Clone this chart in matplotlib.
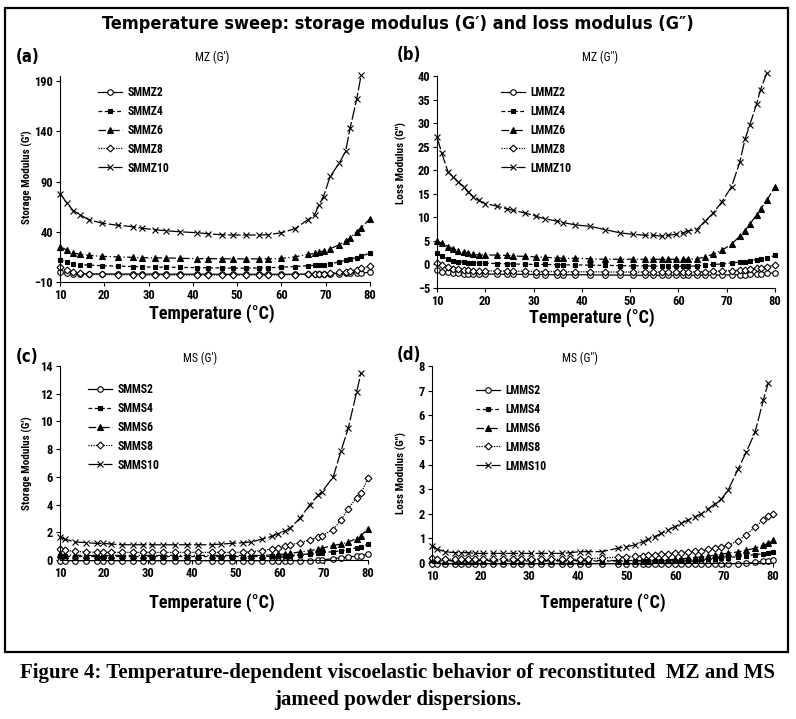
import matplotlib
matplotlib.use('Agg')
import matplotlib.pyplot as plt
from matplotlib import font_manager
from matplotlib.patches import Rectangle

# ---- data ----
temps_a = [10, 11.5, 13, 14.5, 16.5, 19.5, 23, 26.5, 28.5, 31.5, 34, 37, 41, 43.5, 46.5, 49,
           52, 55, 57, 60, 63, 66, 67.5, 68.5, 69.5, 71, 73, 74.5, 75.5, 77, 78, 80]
smmz2 = [-0.5, -1.5, -1.8, -2, -2, -2, -2, -2.1, -2.1, -2.1, -2.2, -2.2, -2.2, -2.2, -2.3, -2.3,
         -2.3, -2.3, -2.3, -2.3, -2.2, -2.1, -2, -2, -1.9, -1.8, -1.6, -1.3, -1.2, -1, -0.8, -0.5]
smmz4 = [12, 9.5, 8, 7.3, 6.8, 6.2, 5.8, 5.4, 5.1, 4.8, 4.8, 4.5, 4.3, 4.1, 4, 3.8,
         3.8, 4, 4.2, 4.7, 5.4, 6.2, 6.6, 6.8, 7.3, 8, 10, 11.5, 12.5, 14.3, 15.5, 19]
smmz6 = [25, 22, 19, 17.5, 16.5, 15.5, 15, 14.5, 14.2, 14, 14, 13.6, 13.2, 13.2, 13.2, 13,
         13, 13, 13, 13.5, 15, 17.5, 18.5, 19.5, 21, 23, 27, 31, 34, 40, 44, 53]
smmz8 = [5, 1.5, -0.5, -1.5, -2, -2.5, -2.8, -2.9, -3, -3, -3, -3, -3, -3, -3, -3,
         -3, -3, -3, -2.9, -2.7, -2.5, -2.3, -2, -1.8, -1.3, -0.5, 0.3, 1, 2.3, 3.5, 6]
smmz10 = [78, 69, 61, 57, 52, 48.5, 46.5, 45, 43.5, 42, 41, 40, 39, 38, 37, 36.8,
          36.8, 36.8, 37, 39, 43, 52, 57, 67, 75, 95, 108, 120, 143, 172, 196]

temps_b = [10, 11, 12.3, 13.4, 14.4, 15.5, 16.5, 17.5, 18.6, 20, 22.4, 24.4, 25.8, 28.3, 30.6,
           32.3, 34.8, 36.1, 38.6, 41.6, 44.8, 47.9, 50.6, 53, 54.8, 56.5, 57.9, 59.6, 61, 62,
           63.8, 65.5, 67.2, 69, 71, 72.7, 73.8, 74.8, 76.2, 77, 78.3, 80]
lmmz2 = [-1.2, -1.5, -1.7, -1.8, -1.9, -1.95, -2, -2, -2, -2.05, -2.05, -2.1, -2.1, -2.1, -2.15,
         -2.15, -2.2, -2.2, -2.2, -2.2, -2.25, -2.25, -2.3, -2.3, -2.3, -2.3, -2.3, -2.3, -2.3, -2.3,
         -2.3, -2.3, -2.3, -2.25, -2.2, -2.2, -2.15, -2.1, -2.05, -2, -1.9, -1.8]
lmmz4 = [2.4, 1.7, 1.1, 0.8, 0.6, 0.5, 0.4, 0.35, 0.3, 0.25, 0.2, 0.15, 0.1, 0.05, 0,
         0, -0.05, -0.1, -0.1, -0.15, -0.2, -0.25, -0.3, -0.3, -0.35, -0.35, -0.4, -0.4, -0.4, -0.4,
         -0.3, -0.2, 0, 0.1, 0.3, 0.5, 0.6, 0.8, 1, 1.1, 1.4, 1.9]
lmmz6 = [5, 4.5, 3.8, 3.3, 2.9, 2.6, 2.4, 2.2, 2, 2, 2, 1.9, 1.8, 1.7, 1.6,
         1.5, 1.4, 1.3, 1.3, 1.2, 1.1, 1.1, 1.1, 1.1, 1.1, 1.1, 1.1, 1.1, 1.1, 1.1,
         1.2, 1.6, 2.2, 3, 4.3, 6, 7.2, 8.6, 10.5, 11.8, 13.6, 16.5]
lmmz8 = [0.4, -0.2, -0.6, -0.9, -1, -1.1, -1.2, -1.3, -1.3, -1.35, -1.4, -1.4, -1.45, -1.45, -1.5,
         -1.5, -1.5, -1.55, -1.55, -1.55, -1.6, -1.6, -1.6, -1.6, -1.6, -1.6, -1.6, -1.6, -1.6, -1.6,
         -1.55, -1.5, -1.45, -1.4, -1.3, -1.2, -1.1, -1, -0.8, -0.7, -0.5, -0.1]
lmmz10 = [27, 23.6, 19.6, 18.6, 17.5, 16.5, 15.4, 14.4, 13.6, 12.9, 12.4, 11.8, 11.5, 10.9, 10.2,
          9.7, 9.2, 8.9, 8.4, 8.1, 7.4, 6.7, 6.4, 6.2, 6.2, 6, 6.2, 6.4, 6.7, 7.1,
          7.4, 9.2, 10.9, 13.3, 16.5, 21.7, 26.6, 29.7, 34.1, 37.1, 40.6]

temps_c = [10, 11.1, 13.4, 16, 18.3, 19.8, 21.7, 24, 26.6, 28.9, 30.8, 33.5, 36.1, 38.8, 41.4,
           44.5, 46.7, 49, 51.6, 53.5, 55.8, 58.1, 59.6, 61.1, 62.3, 64.5, 66.8, 68.7, 69.5, 72.1,
           73.9, 75.5, 77.4, 78.4, 80]
smms2 = [-0.05, -0.05, -0.05, -0.05, -0.05, -0.05, -0.05, -0.05, -0.05, -0.05, -0.05, -0.05, -0.05, -0.05, -0.05,
         -0.05, -0.05, -0.05, -0.05, -0.05, -0.05, -0.05, -0.05, -0.05, -0.05, -0.05, -0.04, -0.02, 0, 0.1,
         0.16, 0.22, 0.28, 0.32, 0.42]
smms4 = [0.3, 0.27, 0.25, 0.25, 0.25, 0.25, 0.25, 0.25, 0.25, 0.25, 0.25, 0.25, 0.25, 0.25, 0.25,
         0.25, 0.25, 0.25, 0.25, 0.25, 0.25, 0.26, 0.27, 0.3, 0.32, 0.38, 0.45, 0.5, 0.53, 0.6,
         0.66, 0.75, 0.88, 0.96, 1.15]
smms6 = [0.4, 0.36, 0.33, 0.33, 0.33, 0.33, 0.33, 0.33, 0.33, 0.33, 0.33, 0.33, 0.33, 0.33, 0.33,
         0.33, 0.33, 0.33, 0.33, 0.33, 0.33, 0.36, 0.4, 0.43, 0.48, 0.58, 0.68, 0.78, 0.85, 1.05,
         1.15, 1.3, 1.55, 1.75, 2.25]
smms8 = [0.77, 0.7, 0.62, 0.58, 0.56, 0.55, 0.55, 0.55, 0.55, 0.55, 0.55, 0.55, 0.55, 0.55, 0.55,
         0.55, 0.55, 0.55, 0.56, 0.6, 0.68, 0.8, 0.88, 1, 1.1, 1.25, 1.45, 1.65, 1.75, 2.2,
         2.9, 3.7, 4.5, 4.8, 5.9]
smms10 = [1.68, 1.5, 1.3, 1.25, 1.2, 1.2, 1.15, 1.1, 1.1, 1.1, 1.1, 1.1, 1.1, 1.1, 1.1,
          1.1, 1.15, 1.2, 1.25, 1.3, 1.5, 1.7, 1.9, 2.1, 2.3, 3, 4, 4.7, 4.9, 6,
          7.9, 9.5, 12.1, 13.5]

temps_d = [10, 11, 12.6, 14.7, 16, 17.4, 18.8, 20.5, 22.5, 24.6, 26.6, 28.3, 30.4, 32.4, 34.5,
           36.6, 38.3, 40.3, 42, 44.8, 48.2, 49.9, 51.6, 53.3, 54.4, 55.7, 57.1, 58.5, 59.8, 61.2,
           62.6, 64, 65.3, 66.7, 68.1, 69.4, 70.8, 72.8, 74.5, 76.3, 78, 79, 80]
lmms2 = [-0.03, -0.03, -0.03, -0.03, -0.03, -0.03, -0.03, -0.03, -0.03, -0.03, -0.03, -0.03, -0.03, -0.03, -0.03,
         -0.03, -0.03, -0.03, -0.03, -0.03, -0.03, -0.03, -0.03, -0.03, -0.03, -0.03, -0.03, -0.03, -0.03, -0.03,
         -0.03, -0.03, -0.03, -0.03, -0.03, -0.03, -0.03, -0.03, -0.02, 0.03, 0.07, 0.09, 0.11]
lmms4 = [0.12, 0.09, 0.08, 0.08, 0.08, 0.08, 0.08, 0.08, 0.08, 0.08, 0.08, 0.08, 0.08, 0.08, 0.08,
         0.08, 0.08, 0.08, 0.08, 0.08, 0.08, 0.08, 0.08, 0.08, 0.08, 0.08, 0.09, 0.09, 0.1, 0.11,
         0.12, 0.14, 0.15, 0.17, 0.18, 0.2, 0.22, 0.26, 0.3, 0.34, 0.38, 0.4, 0.45]
lmms6 = [0.15, 0.12, 0.1, 0.1, 0.1, 0.1, 0.1, 0.1, 0.1, 0.1, 0.1, 0.1, 0.1, 0.1, 0.1,
         0.1, 0.1, 0.1, 0.1, 0.1, 0.1, 0.1, 0.1, 0.1, 0.1, 0.11, 0.12, 0.13, 0.15, 0.17,
         0.2, 0.22, 0.25, 0.28, 0.32, 0.36, 0.4, 0.45, 0.52, 0.6, 0.72, 0.8, 0.92]
lmms8 = [0.2, 0.18, 0.16, 0.15, 0.15, 0.15, 0.15, 0.15, 0.15, 0.15, 0.15, 0.15, 0.15, 0.15, 0.15,
         0.15, 0.15, 0.15, 0.17, 0.2, 0.24, 0.26, 0.28, 0.3, 0.32, 0.34, 0.36, 0.38, 0.4, 0.42,
         0.45, 0.48, 0.5, 0.55, 0.6, 0.66, 0.72, 0.9, 1.15, 1.45, 1.75, 1.9, 2]
lmms10 = [0.69, 0.57, 0.46, 0.42, 0.42, 0.42, 0.39, 0.39, 0.39, 0.39, 0.39, 0.39, 0.39, 0.39, 0.39,
          0.39, 0.42, 0.46, 0.46, 0.46, 0.6, 0.66, 0.73, 0.87, 0.96, 1.07, 1.2, 1.34, 1.47, 1.61,
          1.75, 1.88, 2, 2.2, 2.4, 2.6, 2.96, 3.8, 4.5, 5.3, 6.6, 7.3]

# ---- fonts ----
avail = {f.name for f in font_manager.fontManager.ttflist}
narrow = next((n for n in ['Liberation Sans Narrow', 'DejaVu Sans Condensed', 'Roboto Condensed']
               if n in avail), 'DejaVu Sans')
plt.rcParams['font.family'] = [narrow, 'DejaVu Sans']
plt.rcParams['font.stretch'] = 'condensed'
plt.rcParams['font.weight'] = 'bold'

styles = [
    dict(ls='-', marker='o', mfc='white', ms=4),
    dict(ls=(0, (3, 2)), marker='s', mfc='black', ms=3.5),
    dict(ls=(0, (6, 2, 1, 2)), marker='^', mfc='black', ms=4),
    dict(ls=(0, (1, 1)), marker='D', mfc='white', ms=3.5),
    dict(ls=(0, (10, 2)), marker='x', mfc='black', ms=5),
]

W, H = 796, 719
fig = plt.figure(figsize=(W / 100, H / 100), dpi=100)


def px_axes(x0, y0, x1, y1):
    return fig.add_axes([x0 / W, 1 - y1 / H, (x1 - x0) / W, (y1 - y0) / H])


def panel(box, temps, series, names, ylim, yticks, ylabel, sub, letter, sub_xy, let_xy,
          ylab_xy, xlab_xy, leg_xy):
    ax = px_axes(*box)
    for vals, name, st in zip(series, names, styles):
        ax.plot(temps[:len(vals)], vals, color='black', lw=0.9, mec='black', mew=0.8,
                label=name, clip_on=False, **st)
    ax.set_xlim(10, 80)
    ax.set_ylim(*ylim)
    ax.set_yticks(yticks)
    ax.set_xticks(range(10, 81, 10))
    for s in ['top', 'right']:
        ax.spines[s].set_visible(False)
    ax.tick_params(direction='out', length=3, width=0.8, labelsize=9, pad=2)
    for lab in ax.get_xticklabels() + ax.get_yticklabels():
        lab.set_fontweight('bold')
    ax.legend(loc='upper left', bbox_to_anchor=(leg_xy[0] / W, 1 - leg_xy[1] / H),
              bbox_transform=fig.transFigure, frameon=False, fontsize=8.5,
              handlelength=2.0, labelspacing=0.5, handletextpad=0.5, borderpad=0)
    fig.text(sub_xy[0] / W, 1 - sub_xy[1] / H, sub, ha='center', va='center',
             fontsize=8.5, fontweight='normal')
    fig.text(let_xy[0] / W, 1 - let_xy[1] / H, letter, ha='left', va='center',
             fontsize=12, fontweight='bold', family='DejaVu Sans')
    fig.text(ylab_xy[0] / W, 1 - ylab_xy[1] / H, ylabel, ha='center', va='center',
             rotation=90, fontsize=8, fontweight='bold')
    fig.text(xlab_xy[0] / W, 1 - xlab_xy[1] / H, 'Temperature (°C)', ha='center',
             va='center', fontsize=13, fontweight='bold')
    return ax


panel((60, 76, 370, 282), temps_a, [smmz2, smmz4, smmz6, smmz8, smmz10],
      ['SMMZ2', 'SMMZ4', 'SMMZ6', 'SMMZ8', 'SMMZ10'], (-10, 195), [-10, 40, 90, 140, 190],
      'Storage Modulus (G′)', 'MZ (G′)', '(a)', (212, 57), (16, 57), (27, 177), (212, 314),
      (92, 80))
panel((437, 76, 775, 288), temps_b, [lmmz2, lmmz4, lmmz6, lmmz8, lmmz10],
      ['LMMZ2', 'LMMZ4', 'LMMZ6', 'LMMZ8', 'LMMZ10'], (-5, 40), range(-5, 41, 5),
      'Loss Modulus (G″)', 'MZ (G″)', '(b)', (600, 57), (397, 55), (401, 163), (592, 318),
      (495, 80))
panel((60, 366, 368, 560), temps_c, [smms2, smms4, smms6, smms8, smms10],
      ['SMMS2', 'SMMS4', 'SMMS6', 'SMMS8', 'SMMS10'], (0, 14), range(0, 15, 2),
      'Storage Modulus (G′)', 'MS (G′)', '(c)', (200, 358), (16, 357), (27, 463), (212, 603),
      (82, 377))
panel((432, 366, 773, 563), temps_d, [lmms2, lmms4, lmms6, lmms8, lmms10],
      ['LMMS2', 'LMMS4', 'LMMS6', 'LMMS8', 'LMMS10'], (0, 8), range(0, 9),
      'Loss Modulus (G″)', 'MS (G″)', '(d)', (580, 358), (397, 355), (401, 473), (603, 603),
      (470, 378))

# overall frame, title and caption
fig.patches.append(Rectangle((5 / W, 1 - 652 / H), 783 / W, 644 / H, transform=fig.transFigure,
                             fill=False, lw=1.6, ec='black'))
fig.text(398 / W, 1 - 24 / H, 'Temperature sweep: storage modulus (G′) and loss modulus (G″)',
         ha='center', va='center', fontsize=13, fontweight='bold', family='DejaVu Sans')
fig.text(398 / W, 1 - 673 / H,
         'Figure 4: Temperature-dependent viscoelastic behavior of reconstituted  MZ and MS',
         ha='center', va='center', fontsize=15, fontweight='bold', family='Liberation Serif')
fig.text(398 / W, 1 - 700 / H, 'jameed powder dispersions.',
         ha='center', va='center', fontsize=15, fontweight='bold', family='Liberation Serif')

fig.savefig('out.png', dpi=100)
